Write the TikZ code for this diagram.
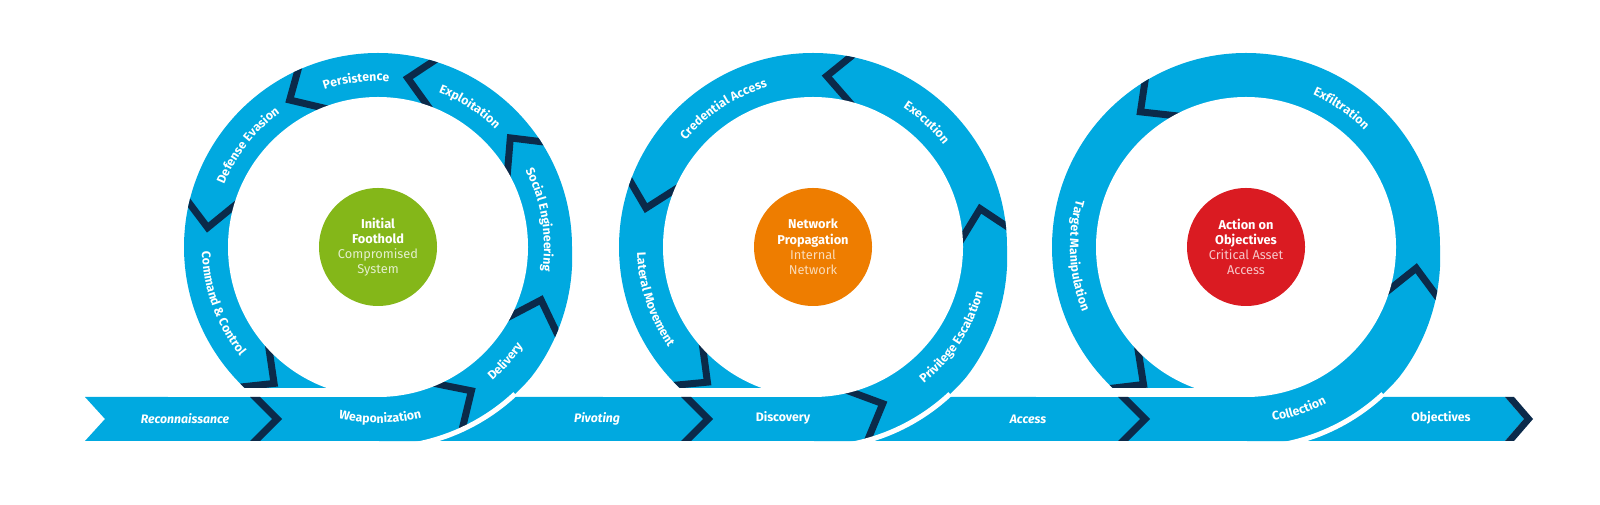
\documentclass[tikz,border=0pt]{standalone}
\usepackage{fontspec}
\setmainfont{Fira Sans}
\usetikzlibrary{decorations.text}
\definecolor{lb}{HTML}{00A9E0}
\definecolor{navy}{HTML}{0B2A4A}
\definecolor{cgreen}{HTML}{84B719}
\definecolor{corange}{HTML}{EE7D00}
\definecolor{cred}{HTML}{DA1B22}
\colorlet{gsub}{white!78!cgreen}
\colorlet{osub}{white!72!corange}
\colorlet{rsub}{white!75!cred}
\newcommand\lblf{\bfseries\fontsize{12.3}{14}\selectfont}
\newcommand\ringouter{(0:194) arc[start angle=0,end angle=270,radius=194] -- plot[domain=-75:0,samples=40] ({(194+7*min(1,0-(\x)/40))*cos(\x)},{(194+7*min(1,0-(\x)/40))*sin(\x)}) -- cycle}
\newcommand\chev[1]{%
  \draw[navy,line width=7,line join=miter]
  ({171.5*cos(#1)+1.6*(150*cos(#1-9.2)-171.5*cos(#1))},{171.5*sin(#1)+1.6*(150*sin(#1-9.2)-171.5*sin(#1))})
  -- (#1:171.5) --
  ({171.5*cos(#1)+1.6*(196*cos(#1-7.1)-171.5*cos(#1))},{171.5*sin(#1)+1.6*(196*sin(#1-7.1)-171.5*sin(#1))});}
\newcommand\cwl[2]{\path[decorate,decoration={text along path,text align=center,text color=white,text={|\lblf|#2}}] (#1+45:166) arc[start angle=#1+45,end angle=#1-45,radius=166];}
\newcommand\ccwl[2]{\path[decorate,decoration={text along path,text align=center,text color=white,text={|\lblf|#2}}] (#1-45:176) arc[start angle=#1-45,end angle=#1+45,radius=176];}
\newcommand\ringbase{%
  \fill[lb] \ringouter;
  \begin{scope}
    \clip \ringouter;
    \chevs
  \end{scope}
  \fill[white] (0,0) circle[radius=150];
  \fill[white] (-210,-150) rectangle (0,-141);
  \draw[white,line width=5] plot[domain=-84:-47,samples=30] ({(194+7*min(1,0-(\x)/40))*cos(\x)},{(194+7*min(1,0-(\x)/40))*sin(\x)});
}
\tikzset{
  bantext/.style={text=white,font=\bfseries\fontsize{12.3}{14}\selectfont,inner sep=0},
  hub/.style={circle,minimum size=118,inner sep=0,align=center,text=white,font=\fontsize{12.8}{15.2}\selectfont},
}
\begin{document}
\begin{tikzpicture}[x=1pt,y=1pt]
\useasboundingbox (0,0) rectangle (1600,505);
\fill[white] (0,0) rectangle (1600,505);
% banner
\fill[lb] (85,108) -- (1505,108) -- (1524,86) -- (1505,64) -- (85,64) -- (105,86) -- cycle;
% ring 1
\begin{scope}[shift={(378,258)}]
  \def\chevs{\chev{-57}\chev{-18}\chev{39.5}\chev{80}\chev{121}\chev{173.5}\chev{232.7}}
  \ringbase
  \cwl{97.5}{Persistence}
  \cwl{56.8}{Exploitation}
  \cwl{9.6}{Social Engineering}
  \ccwl{-42}{Delivery}
  \cwl{142}{Defense Evasion}
  \ccwl{200}{Command {\&} Control}
  \ccwl{-89.3}{Weaponization}
\end{scope}
% ring 2
\begin{scope}[shift={(813,258)}]
  \def\chevs{\chev{-66}\chev{12.9}\chev{85.4}\chev{166.9}\chev{232}}
  \ringbase
  \cwl{123}{Credential Access}
  \cwl{47.6}{Execution}
  \ccwl{-33}{Privilege Escalation}
  \ccwl{198.3}{Lateral Movement}
\end{scope}
% ring 3
\begin{scope}[shift={(1246,258)}]
  \def\chevs{\chev{-7.1}\chev{128}\chev{233.3}}
  \ringbase
  \cwl{55.4}{Exfiltration}
  \ccwl{183}{Target Manipulation}
  \ccwl{-72}{Collection}
\end{scope}
% banner chevrons
\fill[navy] (250,108) -- (260,108) -- (282,86) -- (260,64) -- (250,64) -- (272,86) -- cycle;
\fill[navy] (681,108) -- (691,108) -- (713,86) -- (691,64) -- (681,64) -- (703,86) -- cycle;
\fill[navy] (1118,108) -- (1128,108) -- (1150,86) -- (1128,64) -- (1118,64) -- (1140,86) -- cycle;
\fill[navy] (1505,108) -- (1514,108) -- (1533,86) -- (1514,64) -- (1505,64) -- (1524,86) -- cycle;
% banner texts
\node[bantext] (recon) at (185,86) {\itshape Reconnaissance};
\node[bantext] (pivot) at (597,86) {\itshape Pivoting};
\node[bantext] (disc) at (783,87) {Discovery};
\node[bantext] (access) at (1028,86) {\itshape Access};
\node[bantext] (obj) at (1441,87) {Objectives};
% hubs
\node[hub,fill=cgreen] (foot) at (378,258) {\textbf{Initial}\\\textbf{Foothold}\\\textcolor{gsub}{Compromised}\\\textcolor{gsub}{System}};
\node[hub,fill=corange] (prop) at (813,258) {\textbf{Network}\\\textbf{Propagation}\\\textcolor{osub}{Internal}\\\textcolor{osub}{Network}};
\node[hub,fill=cred] (act) at (1246,258) {\textbf{Action on}\\\textbf{Objectives}\\\textcolor{rsub}{Critical Asset}\\\textcolor{rsub}{Access}};
\end{tikzpicture}
\end{document}
